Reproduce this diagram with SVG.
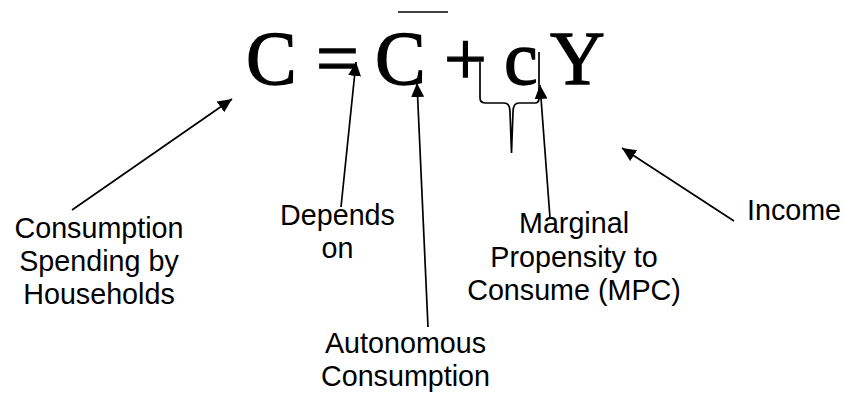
<svg xmlns="http://www.w3.org/2000/svg" width="843" height="394" viewBox="0 0 843 394">
<style>
.eq{font-family:"Liberation Serif","Times New Roman",serif;font-size:76px;fill:#000;stroke:#000;stroke-width:1.3}
.lbl{font-family:"Liberation Sans",Arial,sans-serif;font-size:28.7px;fill:#000;text-anchor:middle}
.ln{stroke:#000;stroke-width:1.7;fill:none}
</style>
<defs>
<marker id="ah" markerUnits="userSpaceOnUse" markerWidth="16" markerHeight="14" refX="14" refY="6.5" orient="auto">
<path d="M0,0 L14,6.5 L0,13 z" fill="#000"/>
</marker>
</defs>
<g id="equation">
<text class="eq" y="84"><tspan x="246">C</tspan><tspan x="316">=</tspan><tspan x="375">C</tspan><tspan x="444">+</tspan><tspan x="504">c</tspan><tspan x="550">Y</tspan></text>
<line class="ln" x1="398" y1="12" x2="448" y2="12"/>
<path id="brace" class="ln" d="M480,62 V98 Q480,103 486,103 H504 Q510,103 510,112 L511.5,153 L513,112 Q513,103 519,103 H535 Q539,103 539,98 V52"/>
</g>
<g id="consumption">
<text class="lbl" x="99" y="238">Consumption</text>
<text class="lbl" x="99" y="271">Spending by</text>
<text class="lbl" x="99" y="304">Households</text>
</g>
<g id="depends">
<text class="lbl" x="337.5" y="225">Depends</text>
<text class="lbl" x="337.5" y="258">on</text>
</g>
<g id="autonomous">
<text class="lbl" x="405.5" y="353">Autonomous</text>
<text class="lbl" x="405.5" y="386">Consumption</text>
</g>
<g id="mpc">
<text class="lbl" x="574" y="233">Marginal</text>
<text class="lbl" x="574" y="267">Propensity to</text>
<text class="lbl" x="574" y="300">Consume (MPC)</text>
</g>
<g id="income">
<text class="lbl" x="794" y="220">Income</text>
</g>
<g id="connectors">
<line class="ln" x1="72" y1="210" x2="232" y2="99" marker-end="url(#ah)"/>
<line class="ln" x1="341" y1="207" x2="356" y2="62" marker-end="url(#ah)"/>
<line class="ln" x1="428" y1="327" x2="417" y2="83" marker-end="url(#ah)"/>
<line class="ln" x1="550" y1="218" x2="540" y2="85" marker-end="url(#ah)"/>
<line class="ln" x1="734" y1="221" x2="622" y2="148" marker-end="url(#ah)"/>
</g>
</svg>
